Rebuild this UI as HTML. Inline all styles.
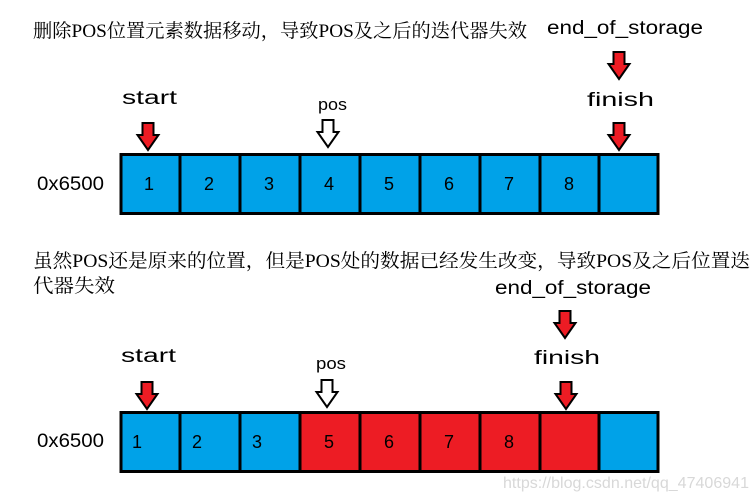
<!DOCTYPE html>
<html><head><meta charset="utf-8"><style>
html,body{margin:0;padding:0;background:#fff;}
svg{display:block;}
.cn2{font-family:"Liberation Serif","Noto Serif CJK SC","Noto Sans CJK SC",serif;font-size:19px;fill:#000;}
.lb{font-family:"Liberation Sans","DejaVu Sans",sans-serif;font-size:19px;fill:#000;}
.nm{font-family:"Liberation Sans",sans-serif;font-size:18px;fill:#000;text-anchor:middle;}
</style></head><body>
<svg width="753" height="498" viewBox="0 0 753 498" xmlns="http://www.w3.org/2000/svg">
<defs>
<path id="ar" d="M-5.5,0 H5.5 V12 H10.5 L0,27 L-10.5,12 H-5.5 Z" stroke="#000" stroke-width="2" stroke-linejoin="miter"/>
</defs>
<text class="cn2" x="33" y="37" textLength="494" lengthAdjust="spacingAndGlyphs">删除POS位置元素数据移动，导致POS及之后的迭代器失效</text>
<text class="lb" x="547" y="34" textLength="156" lengthAdjust="spacingAndGlyphs">end_of_storage</text>
<text class="lb" x="122" y="104" textLength="55" lengthAdjust="spacingAndGlyphs">start</text>
<text class="lb" x="318" y="110" style="font-size:17px" textLength="29" lengthAdjust="spacingAndGlyphs">pos</text>
<text class="lb" x="587" y="106" textLength="67" lengthAdjust="spacingAndGlyphs">finish</text>
<text class="lb" x="37" y="190" textLength="67" lengthAdjust="spacingAndGlyphs">0x6500</text>
<use href="#ar" x="619" y="52" fill="#ed1c24"/>
<use href="#ar" x="148" y="123" fill="#ed1c24"/>
<use href="#ar" x="328" y="120" fill="#fff"/>
<use href="#ar" x="619" y="123" fill="#ed1c24"/>
<rect x="121" y="154.5" width="537" height="59" fill="#00a2e8" stroke="#000" stroke-width="3"/>
<g stroke="#000" stroke-width="3">
<line x1="180" y1="154" x2="180" y2="214"/><line x1="240" y1="154" x2="240" y2="214"/>
<line x1="300" y1="154" x2="300" y2="214"/><line x1="360" y1="154" x2="360" y2="214"/>
<line x1="420" y1="154" x2="420" y2="214"/><line x1="480" y1="154" x2="480" y2="214"/>
<line x1="540" y1="154" x2="540" y2="214"/><line x1="599" y1="154" x2="599" y2="214"/>
</g>
<g class="nm"><text x="149" y="190">1</text><text x="209" y="190">2</text><text x="269" y="190">3</text><text x="329" y="190">4</text><text x="389" y="190">5</text><text x="449" y="190">6</text><text x="509" y="190">7</text><text x="569" y="190">8</text></g>

<text class="cn2" x="33" y="267" textLength="717" lengthAdjust="spacingAndGlyphs">虽然POS还是原来的位置，但是POS处的数据已经发生改变，导致POS及之后位置迭</text>
<text class="cn2" x="33" y="292" textLength="82" lengthAdjust="spacingAndGlyphs">代器失效</text>
<text class="lb" x="495" y="294" textLength="156" lengthAdjust="spacingAndGlyphs">end_of_storage</text>
<text class="lb" x="121" y="362" textLength="55" lengthAdjust="spacingAndGlyphs">start</text>
<text class="lb" x="316" y="369" style="font-size:17px" textLength="30" lengthAdjust="spacingAndGlyphs">pos</text>
<text class="lb" x="534" y="364" textLength="66" lengthAdjust="spacingAndGlyphs">finish</text>
<text class="lb" x="37" y="447" textLength="67" lengthAdjust="spacingAndGlyphs">0x6500</text>
<use href="#ar" x="565" y="311" fill="#ed1c24"/>
<use href="#ar" x="147" y="382" fill="#ed1c24"/>
<use href="#ar" x="327" y="380" fill="#fff"/>
<use href="#ar" x="566" y="382" fill="#ed1c24"/>
<rect x="121" y="412.5" width="537" height="59" fill="#00a2e8" stroke="#000" stroke-width="3"/>
<rect x="300" y="414" width="299" height="56" fill="#ed1c24"/>
<g stroke="#000" stroke-width="3">
<line x1="180" y1="412" x2="180" y2="472"/><line x1="240" y1="412" x2="240" y2="472"/>
<line x1="300" y1="412" x2="300" y2="472"/><line x1="360" y1="412" x2="360" y2="472"/>
<line x1="420" y1="412" x2="420" y2="472"/><line x1="480" y1="412" x2="480" y2="472"/>
<line x1="540" y1="412" x2="540" y2="472"/><line x1="599" y1="412" x2="599" y2="472"/>
</g>
<g class="nm"><text x="137" y="448">1</text><text x="197" y="448">2</text><text x="257" y="448">3</text><text x="329" y="448">5</text><text x="389" y="448">6</text><text x="449" y="448">7</text><text x="509" y="448">8</text></g>
<text x="503" y="488" style="font-family:'Liberation Sans',sans-serif;font-size:16px;fill:#d8d8d8" textLength="246" lengthAdjust="spacingAndGlyphs">https://blog.csdn.net/qq_47406941</text>
</svg>
</body></html>
